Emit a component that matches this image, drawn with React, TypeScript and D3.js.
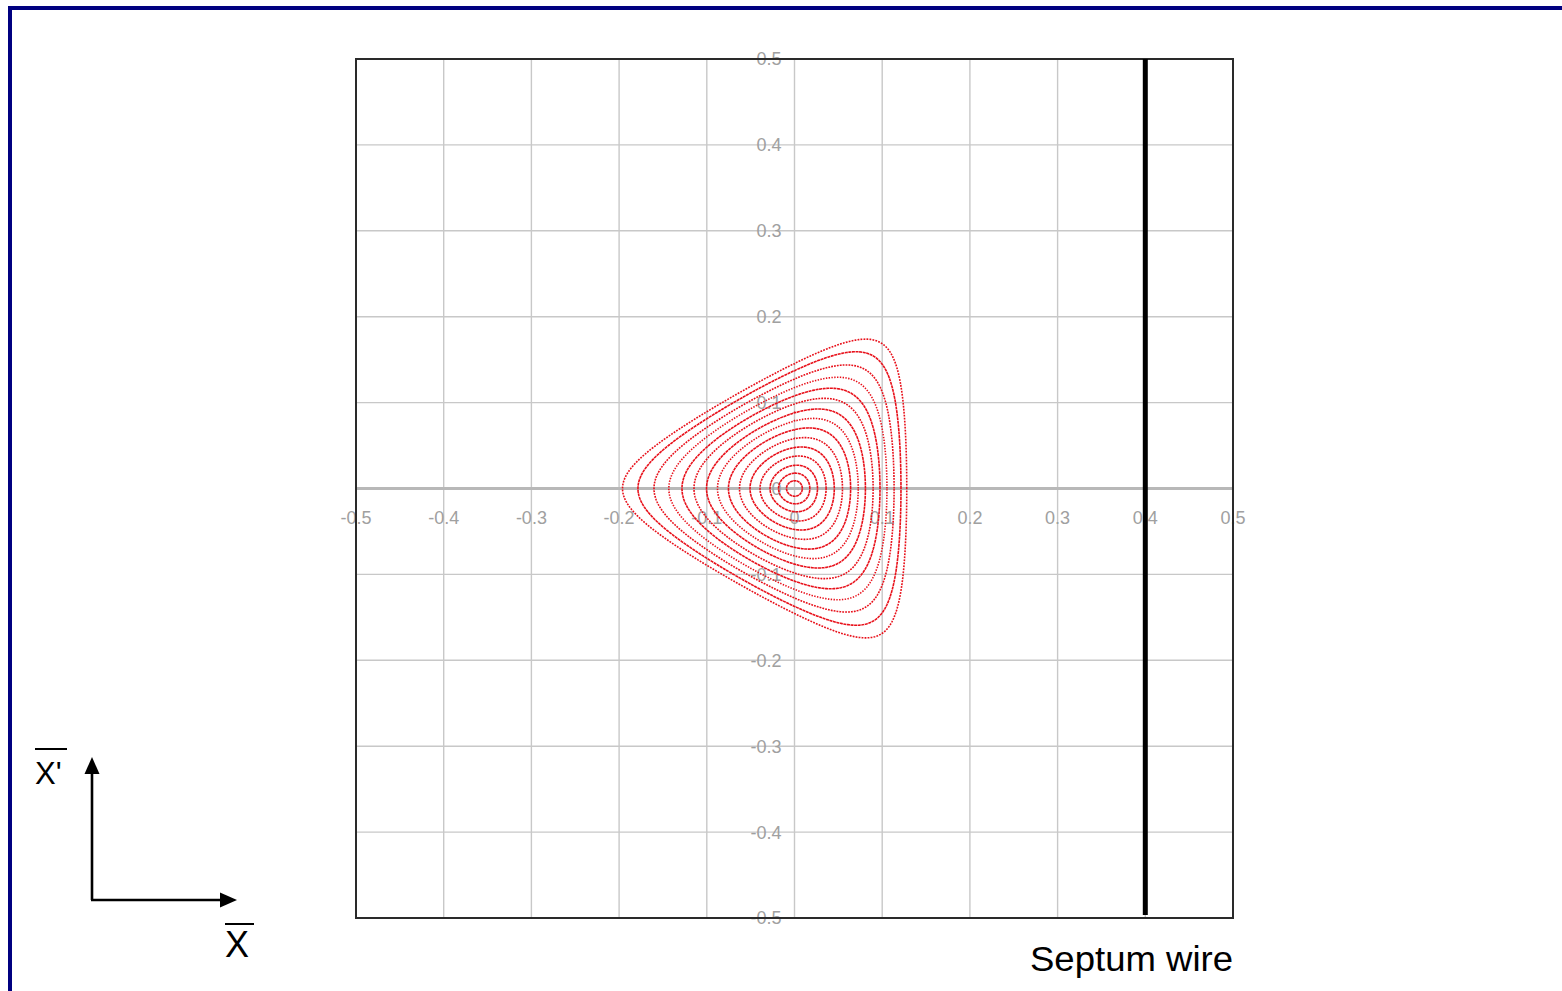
import React from "react";
import * as d3 from "d3";

// ---- data ----
const xTicks = [-0.5, -0.4, -0.3, -0.2, -0.1, 0, 0.1, 0.2, 0.3, 0.4, 0.5];
const xTickLabels = ["-0.5", "-0.4", "-0.3", "-0.2", "-0.1", "0", "0.1", "0.2", "0.3", "0.4", "0.5"];
const yTicks = [0.5, 0.4, 0.3, 0.2, 0.1, 0, -0.1, -0.2, -0.3, -0.4, -0.5];
const yTickLabels = ["0.5", "0.4", "0.3", "0.2", "0.1", "0", "-0.1", "-0.2", "-0.3", "-0.4", "-0.5"];
// left (negative x) intercept of each invariant curve, outermost first
const curveLeftIntercepts = [
  -0.1961, -0.1785, -0.1602, -0.1433, -0.1283, -0.1146, -0.1003, -0.0878,
  -0.0753, -0.0627, -0.0507, -0.0393, -0.0279, -0.0182, -0.0091,
];
// sextupole strength of the Hamiltonian H = (x^2+x'^2)/2 + k (x^3 - 3 x x'^2)
const sextupoleK = 1.145;
const septumPosition = 0.4;

// ---- styles ----
const curveDash = ["1.8 1.2", "3 0.6", "1.8 1.1", "1.4 1.4", "3 0.6", "1.8 1.1", "3 0.6", "1.5 1.3",
  "3 0.6", "1.8 1.1", "3 0.6", "2.2 0.9", "3 0.6", "3 0.6", "3 0.5"];

function curvePoints(left: number): [number, number][] {
  const H = (left * left) / 2 + sextupoleK * left * left * left;
  const phis = d3.range(0, 720).map((i) => (i / 720) * 2 * Math.PI);
  return phis.map((phi) => {
    const c = Math.cos(3 * phi);
    const f = (r: number) => (r * r) / 2 + sextupoleK * r * r * r * c - H;
    let lo = 0;
    let hi = c < 0 ? 1 / (3 * sextupoleK * -c) : 1;
    for (let i = 0; i < 60; i++) {
      const mid = (lo + hi) / 2;
      if (f(mid) < 0) lo = mid;
      else hi = mid;
    }
    const r = (lo + hi) / 2;
    return [r * Math.cos(phi), r * Math.sin(phi)];
  });
}

export default function App() {
  const W = 1562;
  const Hh = 991;
  const x = d3.scaleLinear().domain([-0.5, 0.5]).range([356, 1233]);
  const y = d3.scaleLinear().domain([-0.5, 0.5]).range([918, 59]);
  const line = d3
    .line<[number, number]>()
    .x((d) => x(d[0]))
    .y((d) => y(d[1]))
    .curve(d3.curveLinearClosed);

  const font = "'Liberation Sans', Arial, sans-serif";
  const labelColor = "#a0a0a0";

  return (
    <svg
      width={W}
      height={Hh}
      style={{ position: "absolute", left: 0, top: 0, display: "block", background: "#fff" }}
    >
      {/* navy frame */}
      <rect x={10} y={8} width={1600} height={1100} fill="none" stroke="#000080" strokeWidth={4} />

      {/* grid */}
      {xTicks.map((t) => (
        <line key={"gx" + t} x1={x(t)} x2={x(t)} y1={y(0.5)} y2={y(-0.5)} stroke="#c8c8c8" strokeWidth={1.4} />
      ))}
      {yTicks.map((t) => (
        <line key={"gy" + t} x1={x(-0.5)} x2={x(0.5)} y1={y(t)} y2={y(t)} stroke="#c8c8c8" strokeWidth={1.4} />
      ))}
      {/* x axis line */}
      <line x1={x(-0.5)} x2={x(0.5)} y1={y(0)} y2={y(0)} stroke="#b8b8b8" strokeWidth={3} />

      {/* tick labels */}
      {xTicks.map((t, i) => (
        <text key={"lx" + t} x={x(t)} y={y(0) + 35} textAnchor="middle" fontFamily={font} fontSize={18} fill={labelColor}>
          {xTickLabels[i]}
        </text>
      ))}
      {yTicks.map((t, i) => (
        <text key={"ly" + t} x={x(0) - 13} y={y(t)} dy="0.36em" textAnchor="end" fontFamily={font} fontSize={18} fill={labelColor}>
          {yTickLabels[i]}
        </text>
      ))}

      {/* plot border */}
      <rect x={x(-0.5)} y={y(0.5)} width={x(0.5) - x(-0.5)} height={y(-0.5) - y(0.5)} fill="none" stroke="#2a2a2a" strokeWidth={2} />

      {/* invariant curves */}
      {curveLeftIntercepts.map((L, i) => (
        <path
          key={"c" + i}
          d={line(curvePoints(L)) || ""}
          fill="none"
          stroke="#e8101a"
          strokeWidth={1.6}
          strokeDasharray={curveDash[i % curveDash.length]}
        />
      ))}

      {/* septum wire */}
      <line x1={x(septumPosition)} x2={x(septumPosition)} y1={y(0.5)} y2={y(-0.5) - 3} stroke="#000" strokeWidth={5} />
      <text x={1030} y={971} fontFamily={font} fontSize={35} fill="#000" textLength={203} lengthAdjust="spacingAndGlyphs">
        Septum wire
      </text>

      {/* axis arrows */}
      <line x1={92} y1={900} x2={92} y2={770} stroke="#000" strokeWidth={2.6} />
      <line x1={91} y1={900} x2={224} y2={900} stroke="#000" strokeWidth={2.6} />
      <path d="M92,757 L84.5,774 L99.5,774 Z" fill="#000" />
      <path d="M237,900 L220,892.5 L220,907.5 Z" fill="#000" />

      <text x={35} y={784} fontFamily={font} fontSize={31} fill="#000">X'</text>
      <line x1={35} x2={67} y1={749} y2={749} stroke="#000" strokeWidth={2} />
      <text x={225} y={957} fontFamily={font} fontSize={36} fill="#000">X</text>
      <line x1={225} x2={254} y1={924} y2={924} stroke="#000" strokeWidth={2} />
    </svg>
  );
}
